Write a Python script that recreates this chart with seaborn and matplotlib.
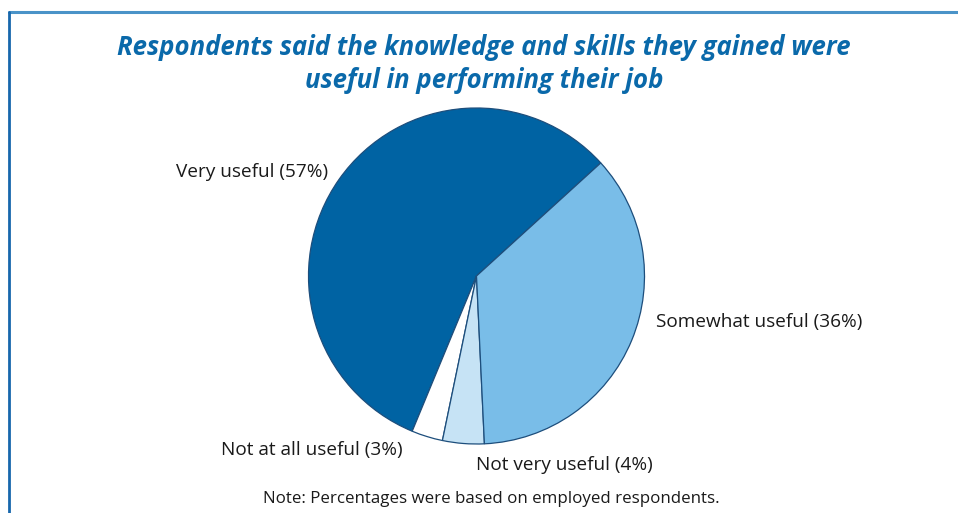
import matplotlib
matplotlib.use("Agg")
import matplotlib.pyplot as plt
import seaborn as sns
from matplotlib.lines import Line2D

sns.set_theme(style="white")
plt.rcParams["font.family"] = ["Open Sans", "DejaVu Sans"]

# Survey answers, in drawing order (counter-clockwise from the start angle)
categories = ["Very useful", "Not at all useful", "Not very useful", "Somewhat useful"]
shares = [57, 3, 4, 36]
slice_colors = ["#0063A3", "#FFFFFF", "#C6E3F5", "#79BDE8"]

title = "Respondents said the knowledge and skills they gained were\nuseful in performing their job"
note = "Note: Percentages were based on employed respondents."

W, H = 958, 513
fig = plt.figure(figsize=(W / 100, H / 100), dpi=100)
fig.patch.set_facecolor("white")

# Panel frame: top rule and left rule
fig.add_artist(Line2D([9 / W, 1], [1 - 12 / H, 1 - 12 / H], transform=fig.transFigure,
                      color="#4A93C8", lw=2.2))
fig.add_artist(Line2D([9 / W, 9 / W], [0, 1 - 12 / H], transform=fig.transFigure,
                      color="#1767AC", lw=2.0))

# Pie, centred at (476, 276) px with a radius of 168 px
cx, cy, r = 476.5, 276, 168
ax = fig.add_axes([(cx - r) / W, (H - cy - r) / H, 2 * r / W, 2 * r / H])
ax.pie(shares, colors=slice_colors, startangle=42.3, counterclock=True,
       radius=1.0, wedgeprops=dict(edgecolor="#1D4E7C", linewidth=0.9))
ax.set_xlim(-1.0, 1.0)
ax.set_ylim(-1.0, 1.0)
ax.set_aspect("equal")
ax.axis("off")

# Slice labels
label_pos = {
    "Very useful": (176, 172, "left"),
    "Somewhat useful": (656, 322, "left"),
    "Not at all useful": (221, 450, "left"),
    "Not very useful": (476, 465, "left"),
}
for name, val in zip(categories, shares):
    x, y, ha = label_pos[name]
    fig.text(x / W, 1 - y / H, f"{name} ({val}%)", ha=ha, va="center",
             fontsize=13.7, color="#1a1a1a")

fig.text(484 / W, 1 - 64 / H, title, ha="center", va="center", fontsize=18.5,
         fontweight="bold", fontstyle="italic", color="#0A69AA",
         linespacing=1.32)

fig.text(491 / W, 1 - 499 / H, note, ha="center", va="center", fontsize=12.2,
         color="#1a1a1a")

fig.savefig("out.png", dpi=100, facecolor="white")
